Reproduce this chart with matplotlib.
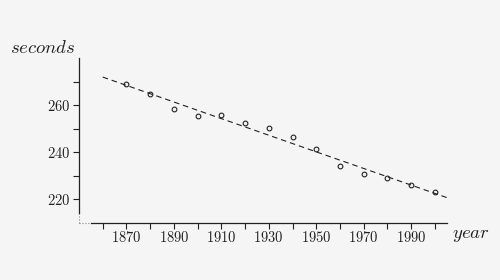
import matplotlib
matplotlib.use("Agg")
import matplotlib.pyplot as plt
from matplotlib.ticker import FixedLocator, FuncFormatter

plt.rcParams['mathtext.fontset'] = 'cm'
plt.rcParams['font.family'] = 'serif'
plt.rcParams['font.serif'] = ['DejaVu Serif']

# === Data ===
years = [1870, 1880, 1890, 1900, 1910, 1920, 1930, 1940, 1950, 1960, 1970, 1980, 1990, 2000]
secs = [268.9, 264.5, 258.3, 255.5, 255.7, 252.5, 250.3, 246.4, 241.4, 234.3, 230.9, 229.1, 226.1, 222.9]

# fitted trend line (end points)
fit_years = [1860, 2005]
fit_secs = [271.9, 220.7]

x_major = [1870, 1890, 1910, 1930, 1950, 1970, 1990]
x_minor = [1860, 1880, 1900, 1920, 1940, 1960, 1980, 2000]
y_major = [220, 240, 260]
y_minor = [230, 250, 270]

bg = "#f5f5f5"
ink = "#222222"

fig = plt.figure(figsize=(5, 2.8), dpi=100, facecolor=bg)
ax = fig.add_axes([0.158, 0.2046, 0.7354, 0.5882])
ax.set_facecolor(bg)

ax.plot(fit_years, fit_secs, linestyle=(0, (5, 3.5)), color=ink, linewidth=0.8)
ax.plot(years, secs, 'o', markersize=3.4, markerfacecolor='none',
        markeredgecolor=ink, markeredgewidth=0.8)

ax.set_xlim(1850, 2005)
ax.set_ylim(210, 280)

for s in ['top', 'right']:
    ax.spines[s].set_visible(False)
ax.spines['bottom'].set_bounds(1855, 2005)
ax.spines['left'].set_bounds(214, 280)
for s in ['bottom', 'left']:
    ax.spines[s].set_color(ink)
    ax.spines[s].set_linewidth(0.9)

# dotted gaps where the axes do not meet
ax.plot([1850, 1855], [210, 210], linestyle=':', color='#888888', linewidth=0.8, clip_on=False)
ax.plot([1850, 1850], [210, 214], linestyle=':', color='#888888', linewidth=0.8, clip_on=False)

ax.xaxis.set_major_locator(FixedLocator(x_major))
ax.xaxis.set_minor_locator(FixedLocator(x_minor))
ax.yaxis.set_major_locator(FixedLocator(y_major))
ax.yaxis.set_minor_locator(FixedLocator(y_minor))
fmt = FuncFormatter(lambda v, p: r'$\mathrm{%d}$' % v)
ax.xaxis.set_major_formatter(fmt)
ax.yaxis.set_major_formatter(fmt)
ax.tick_params(which='both', direction='out', length=4, width=0.8,
               color=ink, labelcolor=ink, labelsize=10.5)
ax.tick_params(axis='x', pad=1.5)
ax.tick_params(axis='y', pad=2)

fig.text(0.02, 0.83, r'$seconds$', fontsize=13.5, color=ink, ha='left', va='center')
fig.text(0.903, 0.16, r'$year$', fontsize=13.5, color=ink, ha='left', va='center')

fig.savefig("out.png", dpi=100, facecolor=bg)
